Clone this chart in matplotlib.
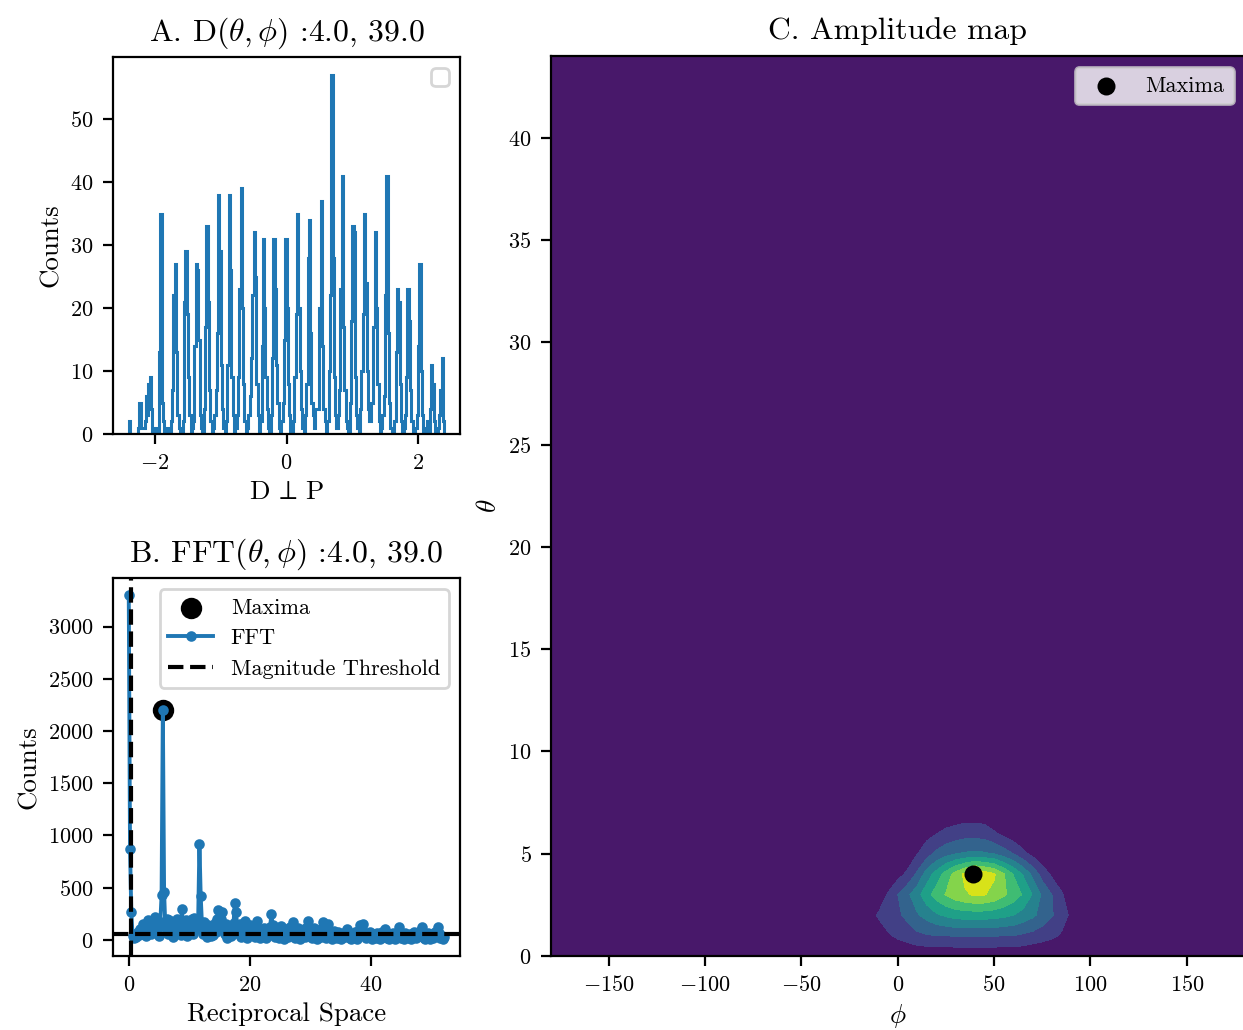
import numpy as np
import matplotlib.pyplot as plt

# LaTeX-like look without a TeX install
plt.rcParams['font.family'] = 'serif'
plt.rcParams['font.serif'] = ['cmr10']
plt.rcParams['mathtext.fontset'] = 'cm'
plt.rcParams['axes.formatter.use_mathtext'] = True
plt.rcParams['xtick.labelsize'] = 8
plt.rcParams['ytick.labelsize'] = 8
plt.rcParams['axes.labelsize'] = 9.7
plt.rcParams['axes.labelpad'] = 2.5
plt.rcParams['axes.titlesize'] = 11.4
plt.rcParams['legend.fontsize'] = 8

# 1) histogram of D perp P (counts per bin, bins from -2.4 to 2.4)
hist_range = (-2.4, 2.4)
hist_counts = [
    2, 0, 0, 0, 0, 0, 0, 1, 5, 1, 1, 1, 2, 6, 3, 8, 9, 4, 0, 0,
    1, 1, 0, 13, 35, 5, 2, 0, 0, 1, 1, 0, 2, 7, 22, 27, 13, 3, 1, 0,
    0, 2, 21, 29, 19, 9, 3, 0, 1, 2, 14, 27, 26, 15, 3, 1, 0, 4, 17, 33,
    21, 7, 2, 0, 1, 3, 7, 16, 38, 29, 11, 4, 1, 0, 2, 11, 38, 26, 9, 3,
    0, 1, 3, 9, 23, 39, 20, 8, 2, 0, 1, 3, 6, 12, 22, 32, 25, 8, 3, 0,
    2, 14, 31, 20, 9, 4, 1, 0, 3, 12, 31, 23, 11, 5, 1, 0, 2, 5, 15, 31,
    20, 8, 3, 0, 0, 2, 9, 19, 35, 20, 10, 4, 1, 0, 3, 8, 28, 34, 16, 5,
    3, 1, 4, 4, 4, 20, 37, 14, 4, 2, 0, 2, 10, 22, 57, 28, 9, 3, 1, 3,
    7, 23, 41, 17, 7, 2, 1, 0, 5, 18, 33, 32, 9, 3, 1, 0, 4, 10, 19, 35,
    24, 10, 4, 2, 5, 5, 17, 32, 20, 8, 2, 0, 1, 3, 6, 22, 41, 16, 5, 1,
    0, 0, 2, 13, 23, 21, 8, 2, 0, 1, 3, 9, 23, 18, 7, 2, 0, 0, 1, 3,
    14, 27, 10, 3, 0, 0, 1, 2, 0, 4, 11, 8, 2, 0, 0, 1, 3, 7, 12, 2,
]

# 2) FFT magnitudes (reciprocal space step = 1 / 4.8)
freq_step = 1 / 4.8
fft_mag = [
    3300, 870, 270, 40, 20, 60, 30, 80, 50, 100,
    60, 150, 70, 110, 40, 190, 90, 130, 60, 170,
    100, 220, 80, 150, 40, 170, 430, 2200, 460, 120,
    200, 60, 190, 90, 140, 30, 160, 70, 200, 120,
    180, 50, 300, 150, 100, 190, 40, 170, 120, 80,
    200, 60, 210, 100, 180, 200, 920, 420, 150, 60,
    170, 120, 30, 140, 90, 40, 120, 50, 160, 80,
    200, 290, 130, 200, 270, 100, 60, 150, 20, 100,
    130, 40, 80, 160, 350, 270, 120, 60, 150, 30,
    90, 120, 180, 70, 20, 100, 140, 50, 110, 60,
    30, 130, 180, 70, 20, 90, 40, 110, 60, 20,
    90, 50, 120, 250, 140, 60, 30, 110, 80, 20,
    60, 130, 70, 10, 100, 50, 30, 90, 120, 60,
    170, 80, 20, 50, 110, 40, 10, 80, 50, 100,
    30, 120, 185, 90, 40, 20, 70, 110, 50, 10,
    60, 90, 30, 110, 170, 60, 20, 100, 155, 70,
    30, 10, 60, 90, 40, 20, 80, 50, 10, 40,
    70, 30, 60, 105, 50, 20, 10, 60, 30, 80,
    40, 10, 90, 140, 70, 100, 150, 60, 20, 50,
    30, 80, 40, 10, 60, 30, 20, 70, 40, 10,
    50, 80, 30, 100, 50, 20, 10, 60, 30, 70,
    40, 10, 50, 80, 125, 60, 20, 40, 10, 70,
    30, 50, 20, 60, 10, 40, 80, 30, 20, 60,
    40, 90, 125, 50, 20, 10, 40, 70, 30, 10,
    50, 20, 60, 80, 40, 120, 70, 20, 40, 10,
    30,
]
magnitude_threshold = 55
freq_cut = 0.4

# 3) amplitude map: theta rows 0..7, phi columns -25..100 (step 5), rest is zero
theta_vals = np.arange(0, 45, 1)
phi_vals = np.arange(-180, 181, 5)
block_phi_start = -25
amp_block = [
    [0, 0, 0, 0, 0, 0, 0, 2, 2, 2, 2, 2, 2, 2, 2, 2, 2, 2, 2, 0, 0, 0, 0, 0, 0, 0],
    [0, 0, 2, 6, 11, 15, 19, 22, 24, 25, 25, 26, 26, 26, 26, 26, 25, 25, 23, 21, 18, 15, 11, 6, 2, 0],
    [0, 2, 8, 14, 19, 23, 28, 36, 42, 48, 52, 55, 56, 56, 56, 55, 53, 50, 45, 40, 33, 26, 18, 10, 3, 0],
    [0, 0, 0, 4, 14, 25, 35, 45, 58, 68, 76, 82, 86, 89, 88, 84, 77, 70, 61, 49, 35, 25, 14, 5, 0, 0],
    [0, 0, 0, 0, 2, 8, 15, 27, 43, 55, 68, 80, 91, 100, 95, 89, 76, 62, 49, 34, 20, 10, 4, 0, 0, 0],
    [0, 0, 0, 0, 0, 0, 4, 12, 20, 28, 33, 37, 39, 40, 39, 37, 31, 25, 16, 9, 3, 0, 0, 0, 0, 0],
    [0, 0, 0, 0, 0, 0, 0, 2, 8, 12, 16, 18, 20, 20, 19, 14, 9, 4, 1, 0, 0, 0, 0, 0, 0, 0],
    [0, 0, 0, 0, 0, 0, 0, 0, 0, 0, 2, 4, 5, 5, 4, 2, 0, 0, 0, 0, 0, 0, 0, 0, 0, 0],
]
max_theta, max_phi = 4.0, 39.0

# build arrays
counts = np.array(hist_counts, dtype=float)
edges = np.linspace(hist_range[0], hist_range[1], len(counts) + 1)
centers = 0.5 * (edges[:-1] + edges[1:])

mag = np.array(fft_mag, dtype=float)
freqs = np.arange(len(mag)) * freq_step
k_max = np.argmax(mag[3:]) + 3

amp = np.zeros((len(theta_vals), len(phi_vals)))
block = np.array(amp_block, dtype=float)
j0 = int(np.where(phi_vals == block_phi_start)[0][0])
amp[:block.shape[0], j0:j0 + block.shape[1]] = block

fig = plt.figure(figsize=(6.215, 5.15), dpi=200)
ax_a = fig.add_axes([0.0909, 0.5786, 0.2792, 0.3660])
ax_b = fig.add_axes([0.0909, 0.0718, 0.2792, 0.3670])
ax_c = fig.add_axes([0.4433, 0.0718, 0.5580, 0.8738])

# A. histogram
ax_a.hist(centers, bins=edges, weights=counts, histtype='step', color='tab:blue', lw=1.1)
ax_a.legend([], [], loc='upper right')
ax_a.set_title(r'A. D$(\theta,\phi)$ :4.0, 39.0')
ax_a.set_xlabel(r'D$\,{\perp}\,$P')
ax_a.set_ylabel('Counts')

# B. FFT
ax_b.scatter(freqs[k_max], mag[k_max], s=45, color='black', label='Maxima', zorder=3)
ax_b.plot(freqs, mag, '-o', color='tab:blue', ms=2.8, lw=1.4, label='FFT', zorder=4)
ax_b.axhline(magnitude_threshold, color='black', ls='--', lw=1.5, label='Magnitude Threshold', zorder=5)
ax_b.axvline(freq_cut, color='black', ls='--', lw=1.5, zorder=5)
ax_b.legend(loc='upper right')
ax_b.set_title(r'B. FFT$(\theta,\phi)$ :4.0, 39.0')
ax_b.set_xlabel('Reciprocal Space')
ax_b.set_ylabel('Counts')

# C. amplitude map
levels = np.linspace(0, amp.max(), 9)
ax_c.contourf(phi_vals, theta_vals, amp, levels=levels, cmap='viridis')
ax_c.scatter([max_phi], [max_theta], s=30, color='black', label='Maxima', zorder=3)
ax_c.legend(loc='upper right')
ax_c.set_title('C. Amplitude map')
ax_c.set_xlabel(r'$\phi$')
ax_c.set_ylabel(r'$\theta$')

fig.savefig('out.png', dpi=200)
